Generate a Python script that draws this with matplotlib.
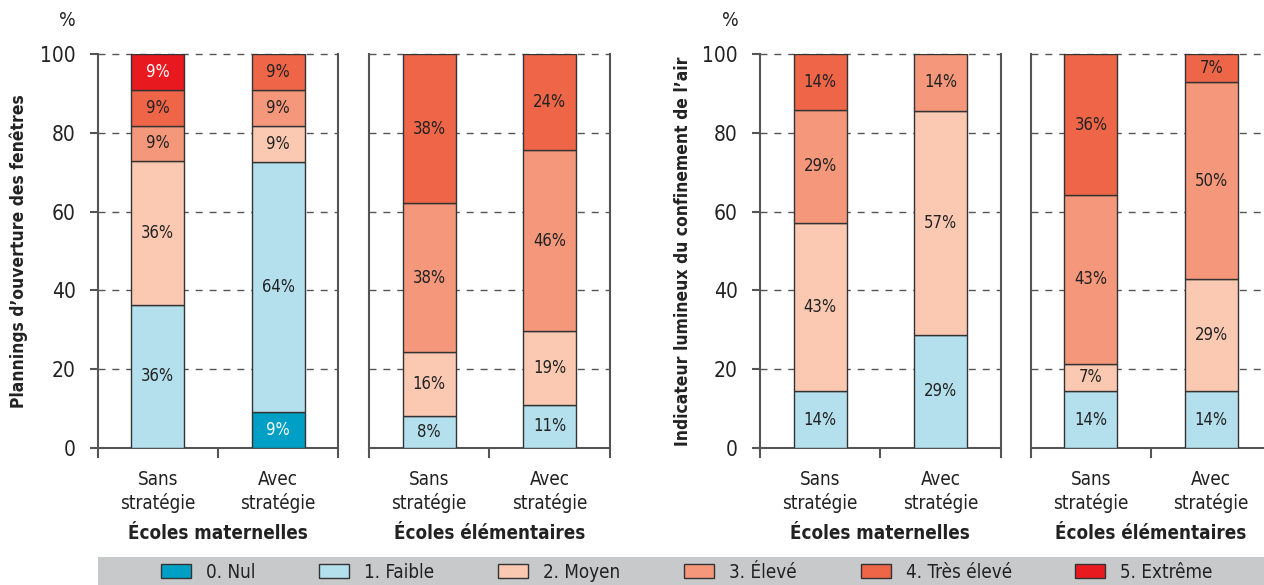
import matplotlib
matplotlib.use("Agg")
import matplotlib.pyplot as plt
from matplotlib.patches import Patch, Rectangle

# DejaVu Sans Condensed is the closest to the condensed grotesque of the original
plt.rcParams['font.family'] = ['DejaVu Sans']
plt.rcParams['font.stretch'] = 'condensed'

# categories / levels
levels = ['0. Nul', '1. Faible', '2. Moyen', '3. Élevé', '4. Très élevé', '5. Extrême']
colors = ['#00a0c6', '#b4dfec', '#fbc9b2', '#f4977a', '#ef6548', '#e8191f']
strategies = ['Sans\nstratégie', 'Avec\nstratégie']
schools = ['Écoles maternelles', 'Écoles élémentaires']
ylabels = ['Plannings d’ouverture des fenêtres', 'Indicateur lumineux du confinement de l’air']

# % per level (Nul, Faible, Moyen, Élevé, Très élevé, Extrême), [sans, avec]
fen_mat = [[0, 36.4, 36.4, 9.1, 9.1, 9.1],
           [9.1, 63.6, 9.1, 9.1, 9.1, 0]]
fen_elem = [[0, 8.1, 16.2, 37.8, 37.9, 0],
            [0, 10.8, 18.9, 45.9, 24.4, 0]]
air_mat = [[0, 14.3, 42.9, 28.6, 14.2, 0],
           [0, 28.6, 57.1, 14.3, 0, 0]]
air_elem = [[0, 14.3, 7.1, 42.9, 35.7, 0],
            [0, 14.3, 28.6, 50.0, 7.1, 0]]

panels = [fen_mat, fen_elem, air_mat, air_elem]
txt = '#222222'

fig = plt.figure(figsize=(12.64, 5.85), dpi=100)
W, H = 1264, 585
lefts = [97.7, 369, 760, 1030.7]
pw = 240.7
y0, y100 = 447.7, 54.3

for i, data in enumerate(panels):
    ax = fig.add_axes([lefts[i] / W, (H - y0) / H, pw / W, (y0 - y100) / H])
    for j, vals in enumerate(data):
        bottom = 0
        for k, v in enumerate(vals):
            if v == 0:
                continue
            ax.bar(j, v, bottom=bottom, width=0.44, color=colors[k],
                   edgecolor='#333333', linewidth=1, zorder=3)
            tc = 'white' if k in (0, 5) else txt
            ax.text(j, bottom + v / 2, f'{v:.0f}%', ha='center', va='center',
                    fontsize=12, color=tc, zorder=4)
            bottom += v
    ax.set_xlim(-0.5, 1.5)
    ax.set_ylim(0, 100)
    ax.set_yticks([0, 20, 40, 60, 80, 100])
    for y in [20, 40, 60, 80, 100]:
        ax.axhline(y, color='#555555', lw=1, ls=(0, (5, 5)), zorder=1, clip_on=False)
    ax.set_xticks([0, 1])
    ax.set_xticklabels(strategies, fontsize=13.5, linespacing=1.25, color=txt)
    ax.set_xticks([-0.5, 0.5, 1.5], minor=True)
    ax.tick_params(axis='x', which='major', length=0, pad=16)
    ax.tick_params(axis='x', which='minor', length=7, width=1.5, color='#555555')
    ax.set_xlabel(schools[i % 2], fontsize=13.5, fontweight='bold', labelpad=8, color=txt)
    ax.spines['top'].set_visible(False)
    for s in ['left', 'right', 'bottom']:
        ax.spines[s].set_color('#555555')
        ax.spines[s].set_linewidth(1.5)
    if i % 2 == 0:
        ax.tick_params(axis='y', length=6, width=1.5, color='#555555', labelsize=15,
                       labelcolor=txt, pad=10)
        ax.set_ylabel(ylabels[i // 2], fontsize=12.5, fontweight='bold', color=txt)
        ax.yaxis.set_label_coords(-0.29 if i == 0 else -0.283, 0.5)
        ax.text(-0.125, 1.086, '%', transform=ax.transAxes, ha='center', va='center',
                fontsize=14, color=txt)
    else:
        ax.tick_params(axis='y', length=0, labelleft=False)

# legend bar
fig.patches.append(Rectangle((98 / W, 0), 1 - 98 / W, 28 / H, transform=fig.transFigure,
                             facecolor='#c8c9cb', edgecolor='none', zorder=0))
handles = [Patch(facecolor=c, edgecolor='#333333', linewidth=1) for c in colors]
fig.legend(handles, levels, loc='center', bbox_to_anchor=(687 / W, 13 / H), ncol=6,
           frameon=False, fontsize=13.5, handlelength=1.6, handleheight=0.8,
           handletextpad=0.8, columnspacing=3.4, borderpad=0, labelcolor=txt)

fig.savefig('out.png', dpi=100)
